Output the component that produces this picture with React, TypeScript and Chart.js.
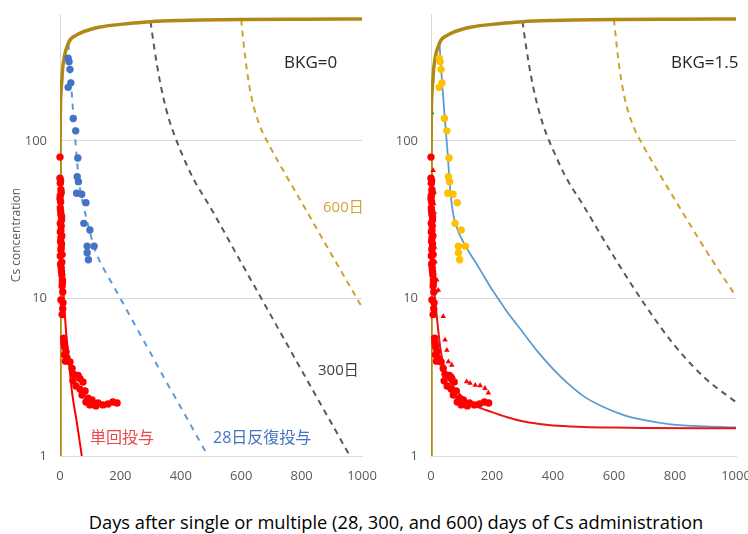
import React, { useEffect, useRef } from 'react';
import { Chart, registerables } from 'chart.js';
Chart.register(...registerables);

// ---- data (days, concentration) ----
const accumDays = [0, 0.1, 0.3, 0.6, 1, 2, 4, 6, 9, 13, 17, 25, 33, 50, 67, 100, 133, 200, 244, 300, 400, 467, 600, 800, 1000];
const accumConc = [1, 20, 60, 100, 140, 180, 215, 240, 290, 330, 362, 405, 438, 465, 484, 510, 529, 550, 561, 572, 582, 586, 590, 593, 595];

// BKG = 0 panel
const d300DaysL = [300, 303, 306, 312, 322, 333, 344, 360, 378, 400, 440, 500, 600, 700, 800, 900, 1000];
const d300ConcL = [572, 518, 471, 393, 297, 228, 182, 139, 110, 86, 58.4, 37.3, 16.9, 7.7, 3.5, 1.6, 0.73];
const d600DaysL = [600, 604, 608, 613, 620, 629, 640, 662, 695, 750, 800, 900, 1000];
const d600ConcL = [590, 492, 416, 343, 271, 212, 169, 124.5, 92.3, 59.8, 40.8, 18.9, 8.8];
const d28DaysL = [28, 31, 35, 39, 45, 50, 55, 60, 66, 75, 88, 100, 110, 130, 150, 175, 200, 250, 300, 350, 400, 450, 490, 520];
const d28ConcL = [415, 330, 255, 201, 140, 106, 80, 63, 50, 41, 32, 26, 22, 17.5, 14.8, 12.2, 10, 6.7, 4.5, 3.0, 2.04, 1.37, 1.0, 0.8];
const singleDaysL = [0, 3, 6, 11, 20, 28, 39, 56, 72, 80];
const singleConcL = [90, 35, 18, 11.3, 6.2, 4.27, 2.62, 1.62, 1.0, 0.75];

// BKG = 1.5 panel
const d300DaysR = [300, 303, 306, 312, 322, 333, 344, 360, 378, 400, 440, 500, 600, 700, 800, 900, 1000];
const d300ConcR = [574, 520, 473, 395, 299, 230, 184, 141, 111, 88, 60, 38.8, 18.4, 9.2, 5.0, 3.1, 2.2];
const d600DaysR = [600, 604, 608, 613, 620, 629, 640, 662, 695, 750, 800, 900, 1000];
const d600ConcR = [591.5, 493.5, 417.5, 344.5, 272.5, 213.5, 170.5, 126, 93.8, 61.3, 42.3, 20.4, 10.3];
const d28DaysR = [28, 31, 35, 39, 45, 50, 55, 59, 62, 66, 72, 80, 90, 100, 115, 130, 150, 175, 200, 217, 250, 293, 350, 424, 500, 560, 632, 700, 786, 900, 1000];
const d28ConcR = [416.5, 331.5, 256.5, 202.5, 141.5, 107.5, 81.5, 62, 52, 43, 35, 30, 26.5, 24, 21.2, 19, 16.5, 13.7, 11.4, 10.2, 8.2, 6.4, 4.6, 3.2, 2.4, 2.07, 1.82, 1.69, 1.59, 1.54, 1.52];
const singleDaysR = [0, 3, 6, 10, 19, 30, 46, 73, 100, 128, 160, 200, 250, 300, 350, 400, 500, 600, 700, 1000];
const singleConcR = [90, 35, 18, 12, 7.7, 4.95, 3.5, 2.75, 2.4, 2.16, 2.02, 1.9, 1.76, 1.66, 1.6, 1.56, 1.53, 1.515, 1.507, 1.5];

// measured points
const singlePtDays = [0, 0, 1, 3, 1, 2, 1, 3, 5, 4, 1, 3, 5, 3, 1, 6, 4, 6, 8, 7, 9, 3, 10, 9, 7, 13, 16, 20, 23, 33, 40, 46, 60, 66, 43, 76, 53, 66, 83, 73, 93, 106, 86, 113, 126, 142, 159, 175, 189, 119, 99,
  2, 4, 0, 2, 5, 1, 3, 6, 2, 4, 7, 2, 5, 8, 12, 14, 15, 18];
const singlePtConc = [79, 58, 54, 49, 45, 41, 37.6, 34.3, 31.5, 28.9, 26.4, 24.2, 22.2, 20.3, 18.6, 17.0, 15.6, 14.1, 13.1, 12.0, 11.0, 9.8, 9.4, 8.6, 7.9, 5.3, 4.9, 4.6, 4.2, 3.95, 3.6, 3.3, 3.25, 3.1, 3.0, 2.95, 2.78, 2.66, 2.59, 2.44, 2.33, 2.27, 2.2, 2.14, 2.17, 2.11, 2.14, 2.2, 2.17, 2.08, 2.11,
  56, 47, 43, 36, 33, 30, 27, 25, 23, 21, 19, 16.5, 14.8, 12.6, 5.6, 5.1, 4.4, 4.0];
const repeatPtDays = [27, 30, 33, 36, 27, 44, 52, 59, 57, 61, 55, 72, 86, 79, 99, 90, 113, 90, 94];
const repeatPtConc = [335, 318, 285, 234, 219, 139, 116, 78, 59.3, 55.2, 46.6, 45.9, 40.6, 30.0, 27.2, 21.5, 21.5, 19.5, 17.6];
const triPtDays = [7, 9, 19, 24, 40, 46, 52, 57, 68, 73, 117, 128, 145, 161, 177, 188];
const triPtConc = [65, 40, 13.1, 11.3, 7.7, 5.45, 4.7, 3.97, 3.78, 3.19, 2.96, 2.9, 2.82, 2.8, 2.69, 2.52];
const greenPtDays = [6, 14, 15, 16, 17, 20];
const greenPtConc = [150, 47, 35, 21, 17, 11];

const xTicks = [0, 200, 400, 600, 800, 1000];
const yTicks = [1, 10, 100];

const pts = (xs: number[], ys: number[]) => xs.map((x, i) => ({ x, y: ys[i] }));

const FONT = "'Open Sans', 'Noto Sans CJK JP', sans-serif";
const GOLD = '#B08914';

function lineDs(xs: number[], ys: number[], color: string, width: number, dash: number[] = []) {
  return {
    data: pts(xs, ys),
    showLine: true,
    borderColor: color,
    backgroundColor: color,
    borderWidth: width,
    borderDash: dash,
    pointRadius: 0,
    cubicInterpolationMode: 'monotone',
  };
}
function pointDs(xs: number[], ys: number[], color: string, radius: number, style = 'circle') {
  return {
    data: pts(xs, ys),
    showLine: false,
    pointStyle: style,
    pointRadius: radius,
    pointBackgroundColor: color,
    pointBorderColor: color,
    pointBorderWidth: 0,
    clip: 6,
  };
}

function makeOptions(yWidth: number, padRight: number, showTitle: boolean) {
  return {
    animation: false,
    responsive: false,
    events: [],
    layout: { padding: { left: 0, top: 14, right: padRight, bottom: 0 } },
    plugins: { legend: { display: false }, tooltip: { enabled: false } },
    scales: {
      x: {
        type: 'linear',
        min: 0,
        max: 1000,
        afterBuildTicks: (s: any) => { s.ticks = xTicks.map((v) => ({ value: v })); },
        afterFit: (s: any) => { s.height = 44; s.paddingLeft = 0; s.paddingRight = 0; },
        grid: { display: false, drawTicks: false },
        border: { display: true, color: '#D9D9D9', width: 1 },
        ticks: { color: '#595959', font: { family: FONT, size: 13 }, padding: 12, maxRotation: 0, autoSkip: false, callback: (v: any) => String(v) },
      },
      y: {
        type: 'logarithmic',
        min: 1,
        max: 640,
        afterBuildTicks: (s: any) => { s.ticks = yTicks.map((v) => ({ value: v })); },
        afterFit: (s: any) => { s.width = yWidth; s.paddingTop = 0; s.paddingBottom = 0; },
        grid: { color: '#D9D9D9', lineWidth: 1, drawTicks: false },
        border: { display: true, color: '#D9D9D9', width: 1 },
        ticks: { color: '#595959', font: { family: FONT, size: 13 }, padding: 13, callback: (v: any) => String(v) },
        title: { display: showTitle, text: 'Cs concentration', color: '#595959', font: { family: FONT, size: 12 }, padding: { top: 9, bottom: 0 } },
      },
    },
  };
}

function useChart(ref: React.RefObject<HTMLCanvasElement>, datasets: any[], options: any) {
  useEffect(() => {
    if (!ref.current) return;
    const c = new Chart(ref.current, { type: 'scatter', data: { datasets }, options } as any);
    return () => c.destroy();
  }, []);
}

const Label = ({ x, y, text, size, color }: { x: number; y: number; text: string; size: number; color: string }) => (
  <div style={{ position: 'absolute', left: x, top: y - 12, height: 24, lineHeight: '24px', fontSize: size, fontFamily: FONT, color, whiteSpace: 'nowrap' }}>{text}</div>
);

export default function App() {
  const leftRef = useRef<HTMLCanvasElement>(null);
  const rightRef = useRef<HTMLCanvasElement>(null);

  useChart(leftRef, [
    pointDs(repeatPtDays, repeatPtConc, '#4472C4', 3.7),
    pointDs(singlePtDays, singlePtConc, '#FF0000', 3.7),
    lineDs(accumDays, accumConc, GOLD, 3.5),
    lineDs(singleDaysL, singleConcL, '#FF0000', 2),
    lineDs(d28DaysL, d28ConcL, '#5B9BD5', 2, [6, 6]),
    lineDs(d300DaysL, d300ConcL, '#595959', 2, [6, 5]),
    lineDs(d600DaysL, d600ConcL, '#CFA22E', 2, [6, 5]),
  ], makeOptions(60, 23, true));

  useChart(rightRef, [
    pointDs(repeatPtDays, repeatPtConc, '#FFC000', 3.7),
    pointDs(singlePtDays, singlePtConc, '#FF0000', 3.7),
    pointDs(triPtDays, triPtConc, '#FF0000', 3.2, 'triangle'),
    pointDs(greenPtDays, greenPtConc, '#2E9E4F', 2, 'triangle'),
    lineDs(accumDays, accumConc, GOLD, 3.5),
    lineDs(singleDaysR, singleConcR, '#E8161B', 2),
    lineDs(d28DaysR, d28ConcR, '#5B9BD5', 1.8),
    lineDs(d300DaysR, d300ConcR, '#595959', 2, [6, 5]),
    lineDs(d600DaysR, d600ConcR, '#CFA22E', 2, [6, 5]),
  ], makeOptions(61, 12, false));

  return (
    <div style={{ position: 'absolute', left: 0, top: 0, width: 748, height: 534, background: '#fff', overflow: 'hidden' }}>
      <canvas ref={leftRef} width={385} height={500} style={{ position: 'absolute', left: 0, top: 0 }} />
      <canvas ref={rightRef} width={378} height={500} style={{ position: 'absolute', left: 370, top: 0 }} />
      <Label x={284} y={62} text="BKG=0" size={17} color="#262626" />
      <Label x={671} y={62} text="BKG=1.5" size={17} color="#262626" />
      <Label x={323} y={206} text="600日" size={15} color="#D6A43A" />
      <Label x={318} y={369} text="300日" size={15} color="#404040" />
      <Label x={90} y={437} text="単回投与" size={16} color="#E8474B" />
      <Label x={213} y={437} text="28日反復投与" size={16} color="#4472C4" />
      <div style={{ position: 'absolute', left: 0, width: 792, top: 510, height: 24, lineHeight: '24px', textAlign: 'center', fontSize: 18.3, fontFamily: FONT, color: '#000', whiteSpace: 'nowrap' }}>
        Days after single or multiple (28, 300, and 600) days of Cs administration
      </div>
    </div>
  );
}
